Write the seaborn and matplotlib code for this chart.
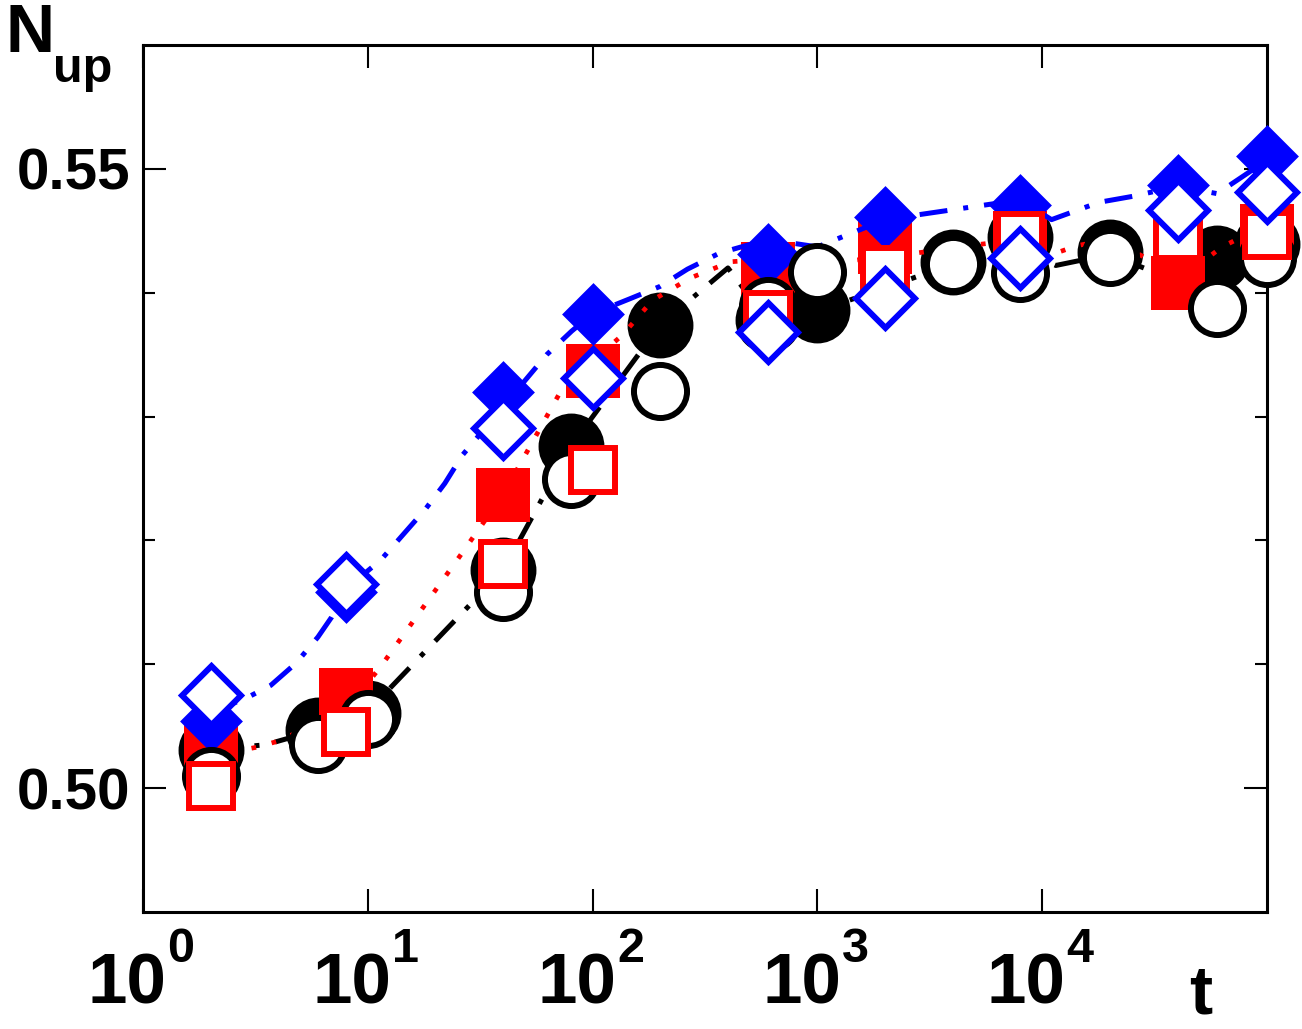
import matplotlib
matplotlib.use("Agg")
import matplotlib.pyplot as plt
from matplotlib.ticker import NullLocator
import seaborn as sns

# ---- values ----
# circles (black)
t_circ = [2, 6, 10, 40, 80, 200, 600, 1000, 4000, 8000, 20000, 60000, 100000]
black_filled = [0.5031, 0.5047, 0.5061, 0.5176, 0.5276, 0.5374, 0.5378, 0.5386,
                0.5425, 0.5445, 0.5433, 0.5428, 0.5439]
black_open = [0.5010, 0.5036, 0.5056, 0.5158, 0.5250, 0.5321, 0.5389, 0.5417,
              0.5423, 0.5416, 0.5429, 0.5388, 0.5428]

# squares (red) and diamonds (blue)
t_sq = [2, 8, 40, 100, 600, 2000, 8000, 40000, 100000]
red_filled = [0.5032, 0.5075, 0.5237, 0.5337, 0.5419, 0.5437, 0.5444, 0.5408, 0.5450]
red_open = [0.5002, 0.5045, 0.5181, 0.5257, 0.5382, 0.5418, 0.5446, 0.5446, 0.5447]
blue_filled = [0.5054, 0.5158, 0.5320, 0.5383, 0.5431, 0.5461, 0.5471, 0.5487, 0.5510]
blue_open = [0.5075, 0.5165, 0.5291, 0.5331, 0.5368, 0.5396, 0.5428, 0.5467, 0.5481]

# curves
t_black_line = [2, 3.5, 6, 10, 40, 80, 200, 400, 600, 1000, 4000, 8000, 11500,
                20000, 40000, 60000, 100000]
black_line = [0.5031, 0.5035, 0.5047, 0.5062, 0.5176, 0.5276, 0.5374, 0.5420,
              0.5378, 0.5385, 0.5423, 0.5435, 0.5422, 0.5431, 0.5409, 0.5427, 0.5439]

t_red_line = [2, 3.2, 4, 8, 11.4, 25.6, 40, 74, 136, 185, 273, 411, 600, 1430,
              2750, 5250, 8000, 11500, 14300, 20000, 40000, 53500, 63000, 100000]
red_line = [0.5026, 0.5033, 0.5038, 0.5063, 0.5098, 0.5187, 0.5237, 0.5324,
            0.5366, 0.5394, 0.5412, 0.5425, 0.5427, 0.5426, 0.5432, 0.5439,
            0.5443, 0.5432, 0.5438, 0.5443, 0.5415, 0.5427, 0.5437, 0.5455]

t_blue_line = [2, 2.9, 3.7, 4.8, 6, 6.9, 8, 11.4, 18, 22, 26.4, 40, 62.5, 80.7,
               100, 146, 199, 264, 367, 600, 1000, 2000, 8000, 11000, 17900,
               25600, 40000, 60000, 100000]
blue_line = [0.5061, 0.5073, 0.5083, 0.5101, 0.5122, 0.5138, 0.5161, 0.5184,
             0.5225, 0.5246, 0.5269, 0.5308, 0.5350, 0.5369, 0.5383, 0.5395,
             0.5405, 0.5419, 0.5432, 0.5443, 0.5437, 0.5459, 0.5475, 0.5459,
             0.5473, 0.5478, 0.5486, 0.5480, 0.5507]

xticks = [1, 10, 100, 1000, 10000]
xtick_exponents = ["0", "1", "2", "3", "4"]
yticks = [0.50, 0.55]
ytick_labels = ["0.50", "0.55"]

# ---- style ----
sns.set_style("ticks")
plt.rcParams['font.family'] = ['Liberation Sans', 'DejaVu Sans']
plt.rcParams['font.weight'] = 'bold'
for key in ['text.color', 'axes.labelcolor', 'xtick.color', 'ytick.color',
            'axes.edgecolor']:
    plt.rcParams[key] = 'black'

fig = plt.figure(figsize=(13.02, 10.29), dpi=100)
ax = fig.add_axes([143 / 1302, 1 - 912 / 1029, 1124 / 1302, 867 / 1029])

dashdot = (0, (5.6, 3.2, 1.0, 3.2))
dotted = (0, (1.0, 3.4))
blue = (0, 0, 1)
red = (1, 0, 0)

# lines under their markers
sns.lineplot(x=t_black_line, y=black_line, ax=ax, color='black', lw=3.6,
             linestyle=dashdot, sort=False, estimator=None, zorder=2)
sns.scatterplot(x=t_circ, y=black_filled, ax=ax, marker='o', s=2250,
                color='black', edgecolor='black', linewidth=0, zorder=3, clip_on=False)
sns.lineplot(x=t_red_line, y=red_line, ax=ax, color=red, lw=3.4,
             linestyle=dotted, sort=False, estimator=None, zorder=4)
sns.scatterplot(x=t_sq, y=red_filled, ax=ax, marker='s', s=1460,
                color=red, edgecolor=red, linewidth=0, zorder=5, clip_on=False)
sns.lineplot(x=t_blue_line, y=blue_line, ax=ax, color=blue, lw=3.6,
             linestyle=dashdot, sort=False, estimator=None, zorder=6)
sns.scatterplot(x=t_sq, y=blue_filled, ax=ax, marker='D', s=1024,
                color=blue, edgecolor=blue, linewidth=0, zorder=7, clip_on=False)

# open symbols on top
sns.scatterplot(x=t_circ, y=black_open, ax=ax, marker='o', s=1460,
                facecolor='white', edgecolor='black', linewidth=4.3,
                zorder=8, clip_on=False)
sns.scatterplot(x=t_sq, y=red_open, ax=ax, marker='s', s=961,
                facecolor='white', edgecolor=red, linewidth=4.3,
                joinstyle='miter', zorder=9, clip_on=False)
sns.scatterplot(x=t_sq, y=blue_open, ax=ax, marker='D', s=900,
                facecolor='white', edgecolor=blue, linewidth=4.3,
                joinstyle='miter', zorder=10, clip_on=False)

ax.set_xscale('log')
ax.set_xlim(1, 1e5)
ax.set_ylim(0.49, 0.56)
ax.set_xticks(xticks)
ax.set_xticklabels([])
ax.xaxis.set_minor_locator(NullLocator())
ax.set_yticks(yticks)
ax.set_yticklabels(ytick_labels)
ax.set_yticks([0.51, 0.52, 0.53, 0.54], minor=True)
ax.set_xlabel("")
ax.set_ylabel("")

ax.tick_params(which='both', direction='in', top=True, right=True, width=1.5)
ax.tick_params(which='major', length=16.5)
ax.tick_params(which='minor', length=8.6)
ax.tick_params(axis='y', labelsize=42, pad=9)
for lab in ax.get_yticklabels():
    lab.set_fontweight('bold')
for sp in ax.spines.values():
    sp.set_linewidth(2.2)
    sp.set_visible(True)

# x tick labels as 10 with a raised exponent (Grace style)
for tv, ex in zip(xticks, xtick_exponents):
    ax.annotate("10", xy=(tv, 0), xycoords=('data', 'axes fraction'),
                xytext=(17, -66), textcoords='offset points', ha='right',
                va='baseline', fontsize=51, fontweight='bold',
                annotation_clip=False)
    ax.annotate(ex, xy=(tv, 0), xycoords=('data', 'axes fraction'),
                xytext=(17.5, -36), textcoords='offset points', ha='left',
                va='baseline', fontsize=35, fontweight='bold',
                annotation_clip=False)

# axis titles placed as in the original
fig.text(0.004, 1 - 52 / 1029, "N", fontsize=49, fontweight='bold', va='baseline')
fig.text(53 / 1302, 1 - 82 / 1029, "up", fontsize=35, fontweight='bold', va='baseline')
fig.text(1201 / 1302, 1 - 1014 / 1029, "t", fontsize=50, fontweight='bold',
         ha='center', va='baseline')

fig.savefig("out.png", dpi=100)
